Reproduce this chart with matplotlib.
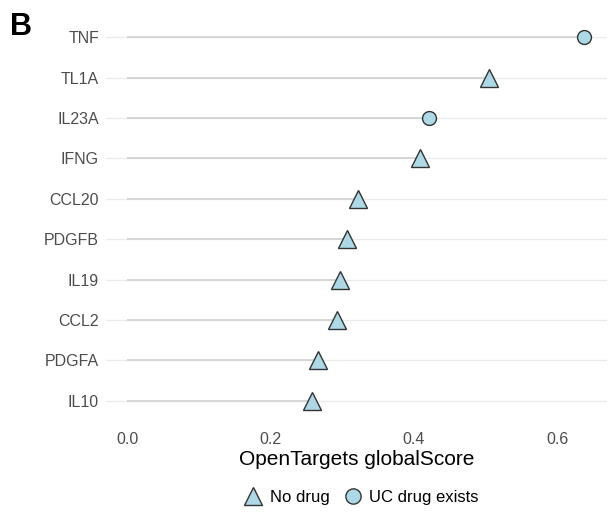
import matplotlib
matplotlib.use("Agg")
import matplotlib.pyplot as plt
from matplotlib.lines import Line2D

plt.rcParams["font.family"] = ["Liberation Sans", "DejaVu Sans"]

genes = ["TNF", "TL1A", "IL23A", "IFNG", "CCL20", "PDGFB", "IL19", "CCL2", "PDGFA", "IL10"]
scores = [0.638, 0.505, 0.421, 0.409, 0.322, 0.307, 0.297, 0.292, 0.266, 0.258]
drug = [True, False, True, False, False, False, False, False, False, False]

FILL, EDGE = "#add8e6", "#333333"
fig = plt.figure(figsize=(6.09, 5.14), dpi=100)
ax = fig.add_axes([0.174, 0.173, 0.823, 0.802])

n = len(genes)
ys = list(range(n - 1, -1, -1))
for y in ys:
    ax.axhline(y, color="#ebebeb", lw=1.0, zorder=0)
for y, s, d in zip(ys, scores, drug):
    ax.plot([0, s], [y, y], color="#d6d6d6", lw=1.4, zorder=1, solid_capstyle="butt")
    ax.plot(s, y, marker="o" if d else "^", ms=10 if d else 13, mfc=FILL, mec=EDGE,
            mew=1.0, ls="none", zorder=3)

ax.set_xlim(-0.03, 0.67)
ax.set_ylim(-0.6, n - 0.4)
ax.set_yticks(ys)
ax.set_yticklabels(genes)
ax.set_xticks([0.0, 0.2, 0.4, 0.6])
ax.set_xticklabels(["0.0", "0.2", "0.4", "0.6"])
ax.tick_params(axis="both", length=0, labelsize=11.5, labelcolor="#4d4d4d", pad=5)
for sp in ax.spines.values():
    sp.set_visible(False)
ax.set_xlabel("OpenTargets globalScore", fontsize=15, color="black", labelpad=2)

handles = [
    Line2D([], [], marker="^", ms=13, mfc=FILL, mec=EDGE, ls="none", label="No drug"),
    Line2D([], [], marker="o", ms=11, mfc=FILL, mec=EDGE, ls="none", label="UC drug exists"),
]
fig.legend(handles=handles, loc="center", bbox_to_anchor=(0.59, 0.033), ncol=2,
           frameon=False, fontsize=12, handletextpad=0.2, columnspacing=0.6,
           handlelength=1.6)

fig.text(0.017, 0.948, "B", fontsize=22, fontweight="bold", va="center", ha="left")

fig.savefig("out.png", dpi=100)
